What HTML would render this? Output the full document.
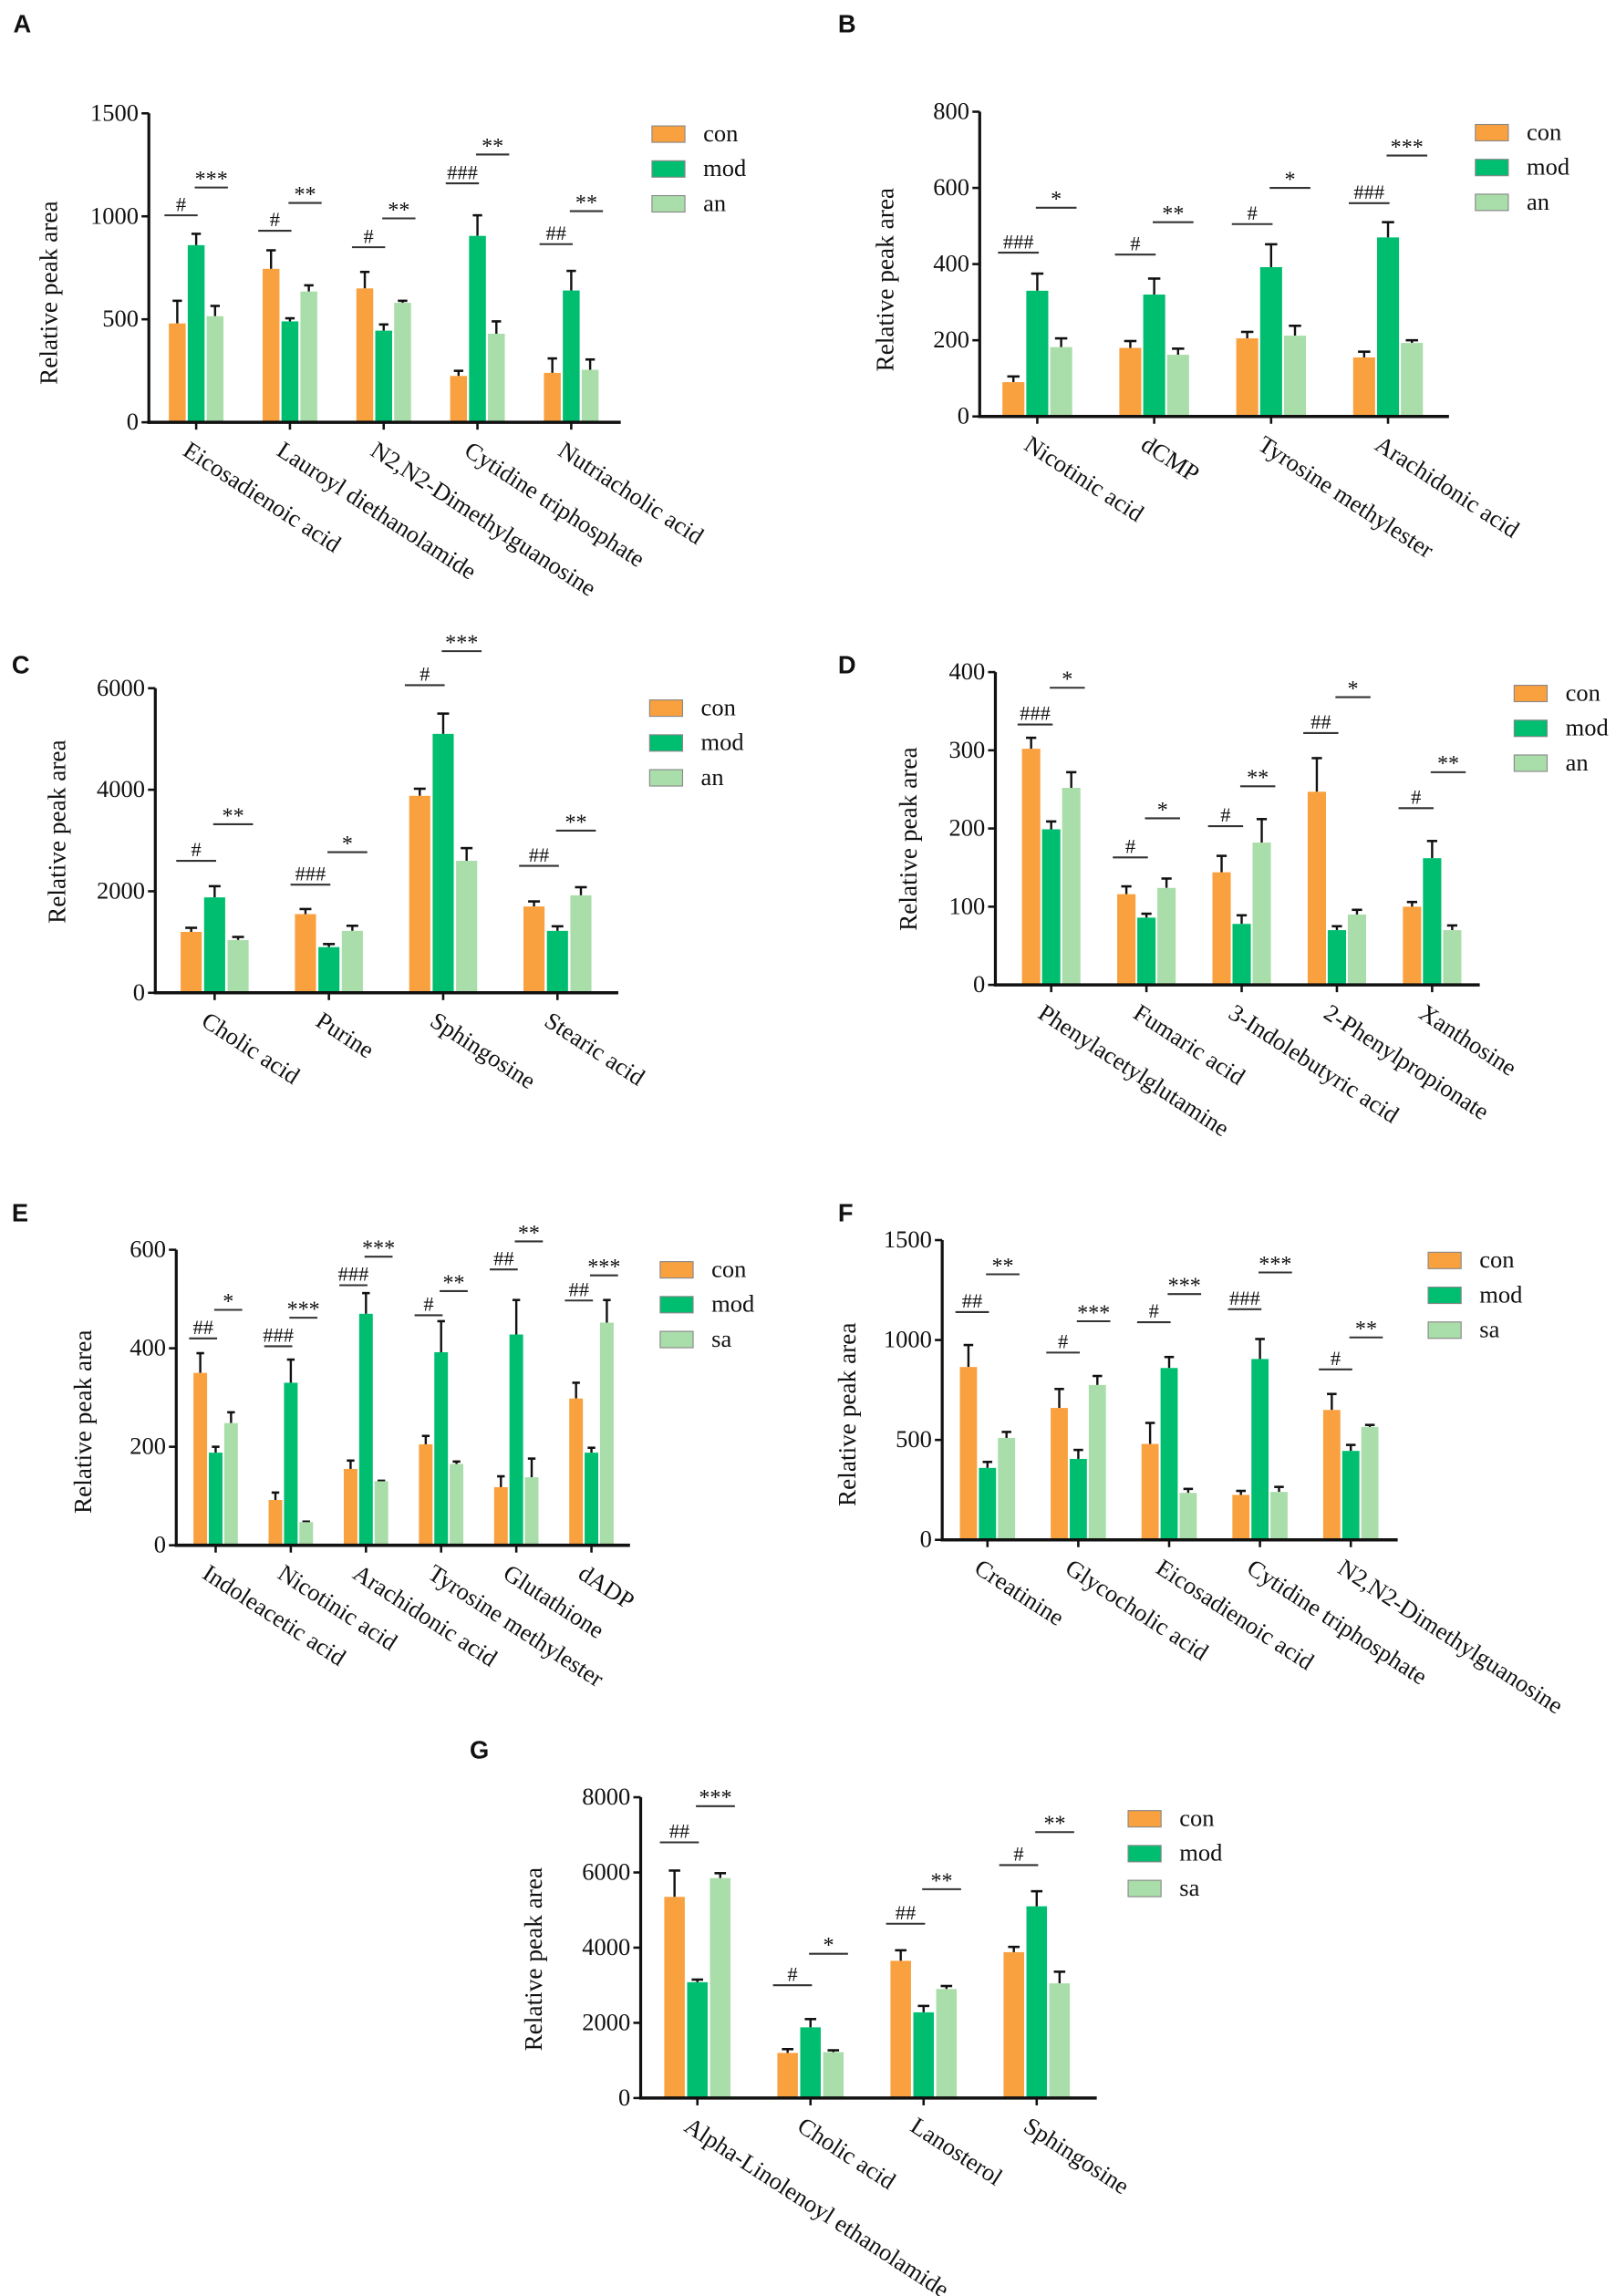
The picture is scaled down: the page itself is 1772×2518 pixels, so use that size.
<!DOCTYPE html>
<html><head><meta charset="utf-8"><title>Relative peak area panels</title>
<style>
html,body{margin:0;padding:0;background:#fff;}
svg{display:block;}
text{font-family:"Liberation Serif","DejaVu Serif",serif;fill:#111;}
.lbl{font-family:"Liberation Sans","DejaVu Sans",sans-serif;font-weight:bold;}
</style></head>
<body>
<svg id="fig" width="1772" height="2518" viewBox="0 0 1103 1568" preserveAspectRatio="none" xmlns="http://www.w3.org/2000/svg"></svg>
<script>
// ---------- DATA ----------
const A_categories=["Eicosadienoic acid","Lauroyl diethanolamide","N2,N2-Dimethylguanosine","Cytidine triphosphate","Nutriacholic acid"];
const A_con=[480,745,650,225,240]; const A_conErr=[590,835,730,250,310];
const A_mod=[860,490,445,905,640]; const A_modErr=[915,505,475,1005,735];
const A_trt=[515,635,580,430,255]; const A_trtErr=[565,665,590,490,305];
const A_sig1=["#","#","#","###","##"]; const A_sig1At=[1005,930,850,1160,865];
const A_sig2=["***","**","**","**","**"]; const A_sig2At=[1140,1065,990,1300,1025];
const A_ticks=[0,500,1000,1500];

const B_categories=["Nicotinic acid","dCMP","Tyrosine methylester","Arachidonic acid"];
const B_con=[90,180,205,155]; const B_conErr=[105,198,222,170];
const B_mod=[330,320,392,470]; const B_modErr=[375,362,452,510];
const B_trt=[182,162,212,193]; const B_trtErr=[205,178,238,200];
const B_sig1=["###","#","#","###"]; const B_sig1At=[430,425,505,560];
const B_sig2=["*","**","*","***"]; const B_sig2At=[548,510,600,685];
const B_ticks=[0,200,400,600,800];

const C_categories=["Cholic acid","Purine","Sphingosine","Stearic acid"];
const C_con=[1200,1550,3880,1700]; const C_conErr=[1280,1650,4020,1800];
const C_mod=[1880,900,5100,1220]; const C_modErr=[2100,960,5500,1310];
const C_trt=[1040,1220,2600,1920]; const C_trtErr=[1100,1320,2850,2080];
const C_sig1=["#","###","#","##"]; const C_sig1At=[2600,2130,6060,2500];
const C_sig2=["**","*","***","**"]; const C_sig2At=[3320,2770,6730,3195];
const C_ticks=[0,2000,4000,6000];

const D_categories=["Phenylacetylglutamine","Fumaric acid","3-Indolebutyric acid","2-Phenylpropionate","Xanthosine"];
const D_con=[302,116,144,247,100]; const D_conErr=[316,126,165,290,106];
const D_mod=[199,86,78,70,162]; const D_modErr=[209,91,89,75,184];
const D_trt=[252,124,182,90,70]; const D_trtErr=[272,136,212,96,76];
const D_sig1=["###","#","#","##","#"]; const D_sig1At=[333,163,203,322,226];
const D_sig2=["*","*","**","*","**"]; const D_sig2At=[380,213,254,368,272];
const D_ticks=[0,100,200,300,400];

const E_categories=["Indoleacetic acid","Nicotinic acid","Arachidonic acid","Tyrosine methylester","Glutathione","dADP"];
const E_con=[350,92,155,205,118,298]; const E_conErr=[390,107,172,222,140,330];
const E_mod=[188,330,470,392,428,188]; const E_modErr=[200,377,512,455,498,198];
const E_trt=[248,47,130,165,138,452]; const E_trtErr=[270,48,131,170,176,498];
const E_sig1=["##","###","###","#","##","##"]; const E_sig1At=[420,404,528,467,560,497];
const E_sig2=["*","***","***","**","**","***"]; const E_sig2At=[478,462,586,516,617,548];
const E_ticks=[0,200,400,600];

const F_categories=["Creatinine","Glycocholic acid","Eicosadienoic acid","Cytidine triphosphate","N2,N2-Dimethylguanosine"];
const F_con=[865,660,480,225,650]; const F_conErr=[975,755,585,245,730];
const F_mod=[360,405,860,905,445]; const F_modErr=[390,450,915,1005,475];
const F_trt=[510,775,235,240,565]; const F_trtErr=[540,820,255,265,575];
const F_sig1=["##","#","#","###","#"]; const F_sig1At=[1140,937,1089,1154,853];
const F_sig2=["**","***","***","***","**"]; const F_sig2At=[1329,1094,1230,1338,1013];
const F_ticks=[0,500,1000,1500];

const G_categories=["Alpha-Linolenoyl ethanolamide","Cholic acid","Lanosterol","Sphingosine"];
const G_con=[5350,1200,3650,3880]; const G_conErr=[6050,1300,3930,4020];
const G_mod=[3080,1880,2280,5100]; const G_modErr=[3150,2100,2450,5500];
const G_trt=[5850,1220,2900,3050]; const G_trtErr=[5980,1270,2980,3360];
const G_sig1=["##","#","##","#"]; const G_sig1At=[6800,3000,4636,6195];
const G_sig2=["***","*","**","**"]; const G_sig2At=[7763,3837,5554,7073];
const G_ticks=[0,2000,4000,6000,8000];

const SERIES_AN=["con","mod","an"];
const SERIES_SA=["con","mod","sa"];

// ---------- LAYOUT ----------
const COLORS=["#F9A03F","#00BE70","#A9DDA9"];
const svg=document.getElementById('fig');
const NS="http://www.w3.org/2000/svg";
function mk(tag,attrs,parent){const e=document.createElementNS(NS,tag);for(const k in attrs)e.setAttribute(k,attrs[k]);(parent||svg).appendChild(e);return e;}

const panels=[
 {id:"a",letter:"A",lx:9,ly:22,cats:A_categories,s:[A_con,A_mod,A_trt],e:[A_conErr,A_modErr,A_trtErr],sig1:A_sig1,s1:A_sig1At,sig2:A_sig2,s2:A_sig2At,ticks:A_ticks,names:SERIES_AN,
  ax:101.6,y0:288.4,yTop:77.4,xEnd:423.7,t0:133.9,step:64,bw:11.5,gap:1.4,titleX:34,titleY:200,legX:445,legY:86},
 {id:"b",letter:"B",lx:572,ly:22,cats:B_categories,s:[B_con,B_mod,B_trt],e:[B_conErr,B_modErr,B_trtErr],sig1:B_sig1,s1:B_sig1At,sig2:B_sig2,s2:B_sig2At,ticks:B_ticks,names:SERIES_AN,
  ax:668.7,y0:284.4,yTop:76.3,xEnd:989,t0:708,step:79.8,bw:15,gap:1.3,titleX:604.6,titleY:191,legX:1007,legY:85},
 {id:"c",letter:"C",lx:8,ly:460,cats:C_categories,s:[C_con,C_mod,C_trt],e:[C_conErr,C_modErr,C_trtErr],sig1:C_sig1,s1:C_sig1At,sig2:C_sig2,s2:C_sig2At,ticks:C_ticks,names:SERIES_AN,
  ax:106,y0:678,yTop:470,xEnd:422,t0:146.5,step:78,bw:14.4,gap:1.6,titleX:39.5,titleY:568,legX:443.4,legY:478},
 {id:"d",letter:"D",lx:572,ly:460,cats:D_categories,s:[D_con,D_mod,D_trt],e:[D_conErr,D_modErr,D_trtErr],sig1:D_sig1,s1:D_sig1At,sig2:D_sig2,s2:D_sig2At,ticks:D_ticks,names:SERIES_AN,
  ax:679.4,y0:672.6,yTop:459,xEnd:1010,t0:717.5,step:65,bw:12.5,gap:1.2,titleX:620.7,titleY:573,legX:1033.5,legY:468},
 {id:"e",letter:"E",lx:8,ly:834,cats:E_categories,s:[E_con,E_mod,E_trt],e:[E_conErr,E_modErr,E_trtErr],sig1:E_sig1,s1:E_sig1At,sig2:E_sig2,s2:E_sig2At,ticks:E_ticks,names:SERIES_SA,
  ax:120.3,y0:1055.3,yTop:853.5,xEnd:430,t0:147.2,step:51.3,bw:9.3,gap:1.2,titleX:57.4,titleY:971,legX:450.6,legY:861.6},
 {id:"f",letter:"F",lx:572,ly:834,cats:F_categories,s:[F_con,F_mod,F_trt],e:[F_conErr,F_modErr,F_trtErr],sig1:F_sig1,s1:F_sig1At,sig2:F_sig2,s2:F_sig2At,ticks:F_ticks,names:SERIES_SA,
  ax:643.1,y0:1051.6,yTop:846.9,xEnd:954,t0:674,step:62,bw:11.7,gap:1.3,titleX:579,titleY:966,legX:974.8,legY:855.2},
 {id:"g",letter:"G",lx:320.6,ly:1201,cats:G_categories,s:[G_con,G_mod,G_trt],e:[G_conErr,G_modErr,G_trtErr],sig1:G_sig1,s1:G_sig1At,sig2:G_sig2,s2:G_sig2At,ticks:G_ticks,names:SERIES_SA,
  ax:437.3,y0:1432.8,yTop:1227.4,xEnd:748.6,t0:476,step:77.2,bw:14,gap:1.6,titleX:364.7,titleY:1338,legX:770,legY:1236.5}
];

function drawPanel(p){
  const g=mk('g',{});
  
  
  const max=p.ticks[p.ticks.length-1];
  const yS=v=>p.y0-(v/max)*(p.y0-p.yTop);
  const xS=i=>p.t0+i*p.step;

  const letter=mk('text',{x:p.lx,y:p.ly,'font-size':17,'class':'lbl'},g);
  letter.textContent=p.letter;
  
  

  const gw=3*p.bw+2*p.gap;
  p.cats.forEach((c,i)=>{
    const left=xS(i)-gw/2;
    for(let k=0;k<3;k++){
      const v=p.s[k][i], ev=p.e[k][i];
      const bx=left+k*(p.bw+p.gap);
      const cx=bx+p.bw/2;
      const el=mk('line',{x1:cx,x2:cx,y1:yS(v),y2:yS(ev),stroke:'#111','stroke-width':1.5},g);
      
      
      const cap=mk('line',{x1:cx-p.bw*0.28,x2:cx+p.bw*0.28,y1:yS(ev),y2:yS(ev),stroke:'#111','stroke-width':1.6},g);
      
      
      const r=mk('rect',{x:bx,y:yS(v),width:p.bw,height:p.y0-yS(v),fill:COLORS[k]},g);
      
      
    }
    const l1=mk('line',{x1:left-3,x2:xS(i)+1,y1:yS(p.s1[i]),y2:yS(p.s1[i]),stroke:'#333','stroke-width':1.3},g);
    
    
    const t1=mk('text',{x:(left-3+xS(i)+1)/2,y:yS(p.s1[i])-3,'font-size':14,'text-anchor':'middle'},g);
    t1.textContent=p.sig1[i];
    
    
    const l2=mk('line',{x1:xS(i)-1,x2:left+gw+3,y1:yS(p.s2[i]),y2:yS(p.s2[i]),stroke:'#333','stroke-width':1.3},g);
    
    
    const t2=mk('text',{x:(xS(i)-1+left+gw+3)/2,y:yS(p.s2[i])-1,'font-size':15,'text-anchor':'middle'},g);
    t2.textContent=p.sig2[i];
    
    
    const xt=mk('line',{x1:xS(i),x2:xS(i),y1:p.y0,y2:p.y0+5,stroke:'#111','stroke-width':1.6},g);
    
    
    const ct=mk('text',{x:0,y:0,'font-size':16.5,transform:'translate('+(xS(i)-3)+','+(p.y0+11)+') rotate(33)',dy:'0.78em'},g);
    ct.textContent=c;
    
    
  });

  const ya=mk('line',{x1:p.ax,x2:p.ax,y1:p.yTop,y2:p.y0+1,stroke:'#111','stroke-width':2},g);
  
  
  const xa=mk('line',{x1:p.ax-1,x2:p.xEnd,y1:p.y0,y2:p.y0,stroke:'#111','stroke-width':2.2},g);
  
  
  p.ticks.forEach(t=>{
    const tl=mk('line',{x1:p.ax-5,x2:p.ax,y1:yS(t),y2:yS(t),stroke:'#111','stroke-width':1.6},g);
    
    
    const tt=mk('text',{x:p.ax-7,y:yS(t)+5,'font-size':16.5,'text-anchor':'end'},g);
    tt.textContent=String(t);
    
    
  });
  const yt=mk('text',{x:0,y:0,'font-size':17,'text-anchor':'middle',transform:'translate('+(p.titleX+5)+','+p.titleY+') rotate(-90)'},g);
  yt.textContent='Relative peak area';
  
  

  p.names.forEach((n,k)=>{
    const yy=p.legY+k*23.8;
    const lb=mk('rect',{x:p.legX,y:yy,width:22.5,height:11.2,fill:COLORS[k],stroke:'#888','stroke-width':0.7},g);
    
    
    const lt=mk('text',{x:p.legX+35,y:yy+10.5,'font-size':16.5},g);
    lt.textContent=n;
    
    
  });
}
panels.forEach(drawPanel);
</script>
</body></html>
